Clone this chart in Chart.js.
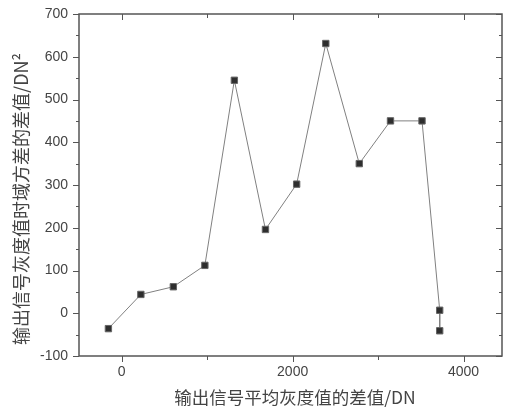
<!DOCTYPE html>
<html>
<head>
<meta charset="utf-8">
<script src="https://cdn.jsdelivr.net/npm/chart.js@4.4.0/dist/chart.umd.min.js"></script>
<style>
  body { margin: 0; background: #fff; }
  canvas { display: block; }
</style>
</head>
<body>
<canvas id="myChart" width="514" height="414"></canvas>
<script>
// data
const xValues = [-156, 224, 604, 973, 1318, 1682, 2047, 2388, 2780, 3145, 3514, 3721, 3721];
const yValues = [-36, 44, 62, 112, 545, 196, 302, 631, 350, 450, 450, 7, -41];
const xTicks = [0, 2000, 4000];
const xTitle = '输出信号平均灰度值的差值/DN';
const yTitle = '输出信号灰度值时域方差的差值/DN²';

let points = [];
for (let i = 0; i < xValues.length; i++) {
  points.push({ x: xValues[i], y: yValues[i] });
}

const axisColor = '#555';
const textColor = '#444';
const tickFont = { family: '"Liberation Sans", Arial, sans-serif', size: 14 };

// frame + ticks like the origin plot (outer ticks left/bottom, inner ticks right/top)
const framePlugin = {
  id: 'frame',
  afterDatasetsDraw(chart) {
    const ctx = chart.ctx;
    const a = chart.chartArea;
    const xs = chart.scales.x;
    const ys = chart.scales.y;
    ctx.save();
    ctx.strokeStyle = axisColor;
    ctx.lineWidth = 1;
    ctx.beginPath();
    for (let v = 0; v <= 4000; v += 1000) {
      const px = Math.round(xs.getPixelForValue(v)) + 0.5;
      const l = v % 2000 === 0 ? 6 : 4;
      ctx.moveTo(px, a.bottom); ctx.lineTo(px, a.bottom + l);
      ctx.moveTo(px, a.top); ctx.lineTo(px, a.top + l);
    }
    for (let v = -100; v <= 700; v += 50) {
      const py = Math.round(ys.getPixelForValue(v)) + 0.5;
      const l = v % 100 === 0 ? 6 : 3;
      ctx.moveTo(a.left, py); ctx.lineTo(a.left - l, py);
      ctx.moveTo(a.right, py); ctx.lineTo(a.right - l, py);
    }
    ctx.stroke();
    ctx.lineWidth = 1.5;
    ctx.strokeRect(a.left, a.top, a.right - a.left, a.bottom - a.top);

    // axis titles
    ctx.fillStyle = textColor;
    ctx.textAlign = 'center';
    ctx.textBaseline = 'middle';
    ctx.font = '17.5px "Noto Sans CJK SC"';
    ctx.fillText(xTitle, 295, 397);
    ctx.translate(21, 199);
    ctx.rotate(-Math.PI / 2);
    ctx.font = '18px "Noto Sans CJK SC"';
    ctx.fillText(yTitle, 0, 0);
    ctx.restore();
  }
};

const ctx = document.getElementById('myChart').getContext('2d');
const chart = new Chart(ctx, {
  type: 'scatter',
  data: {
    datasets: [{
      data: points,
      showLine: true,
      borderColor: '#808080',
      borderWidth: 1,
      pointStyle: 'rect',
      pointRadius: 4.5,
      pointBackgroundColor: '#2e2e2e',
      pointBorderColor: '#666',
      pointBorderWidth: 1
    }]
  },
  options: {
    responsive: false,
    animation: false,
    layout: { padding: { left: 0, right: 12, top: 14, bottom: 0 } },
    plugins: { legend: { display: false }, tooltip: { enabled: false } },
    scales: {
      x: {
        type: 'linear',
        min: -500,
        max: 4450,
        afterBuildTicks: function (scale) {
          scale.ticks = xTicks.map(function (v) { return { value: v }; });
        },
        afterFit: function (scale) { scale.height = 58; },
        grid: { display: false, drawTicks: true, tickLength: 6 },
        border: { display: false },
        ticks: {
          padding: 2,
          color: textColor,
          font: tickFont,
          callback: function (value) { return String(value); }
        }
      },
      y: {
        min: -100,
        max: 700,
        afterFit: function (scale) { scale.width = 79; },
        grid: { display: false, drawTicks: true, tickLength: 6 },
        border: { display: false },
        ticks: {
          stepSize: 100,
          padding: 5,
          color: textColor,
          font: tickFont,
          callback: function (value) { return String(value); }
        }
      }
    }
  },
  plugins: [framePlugin]
});
</script>
</body>
</html>
